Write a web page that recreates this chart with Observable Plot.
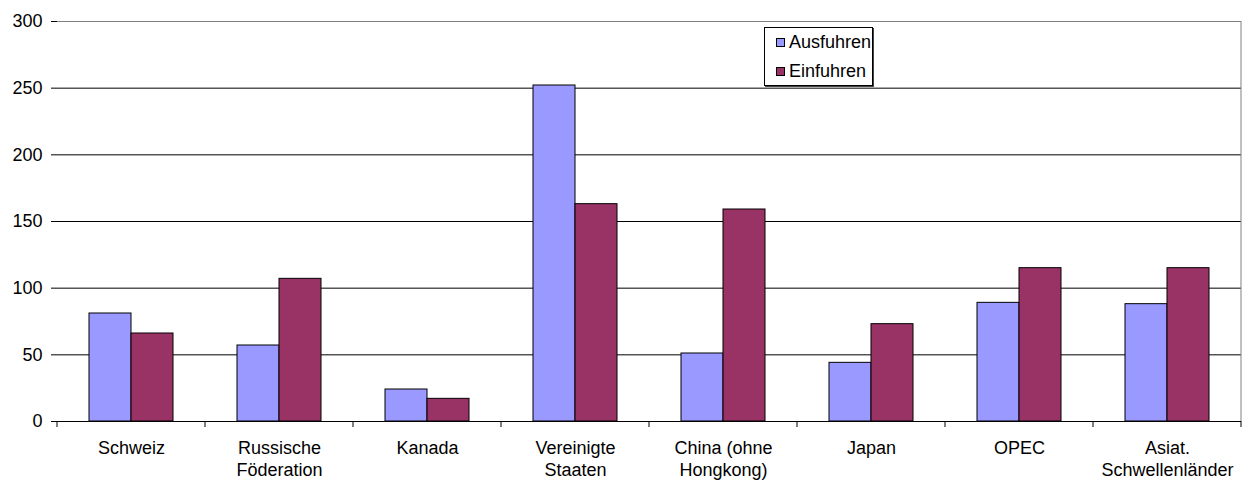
<!DOCTYPE html>
<html>
<head>
<meta charset="utf-8">
<script src="https://cdn.jsdelivr.net/npm/d3@7"></script>
<script src="https://cdn.jsdelivr.net/npm/@observablehq/plot@0.6"></script>
<style>
  html, body { margin: 0; padding: 0; background: #fff; }
  #chart { position: relative; width: 1245px; height: 480px; font-family: "Liberation Sans", Arial, sans-serif; }
  #chart svg { display: block; }
  .legend { position: absolute; left: 764px; top: 27px; width: 109px; height: 59px; box-sizing: border-box;
            border: 1px solid #000; box-shadow: 1px 1px 0 #444; background: #fff; font-size: 18px; color: #000; }
  .legend .item { position: absolute; left: 11px; display: flex; align-items: center; white-space: nowrap; }
  .legend .sw { width: 7px; height: 7px; border: 1px solid #000; margin-right: 4px; }
</style>
</head>
<body>
<div id="chart"></div>
<script>
// Trade with partner regions: exports and imports
const categories = ["Schweiz", "Russische\nFöderation", "Kanada", "Vereinigte\nStaaten",
                    "China (ohne\nHongkong)", "Japan", "OPEC", "Asiat.\nSchwellenländer"];
const series = ["Ausfuhren", "Einfuhren"];
const ausfuhren = [81, 57, 24, 252, 51, 44, 89, 88];
const einfuhren = [66, 107, 17, 163, 159, 73, 115, 115];
const yTicks = [0, 50, 100, 150, 200, 250, 300];
const colors = ["#9999FF", "#993366"];

const rows = categories.flatMap((cat, i) => [
  {cat, series: series[0], value: ausfuhren[i]},
  {cat, series: series[1], value: einfuhren[i]}
]);

const plot = Plot.plot({
  width: 1245,
  height: 480,
  marginLeft: 54,
  marginRight: 2,
  marginTop: 21,
  marginBottom: 59,
  style: {fontFamily: "'Liberation Sans', Arial, sans-serif", fontSize: "18px", color: "#000", background: "#fff"},
  fx: {domain: categories, paddingInner: 0, paddingOuter: 0, label: null},
  x: {domain: series, paddingInner: 0, paddingOuter: 0.75, axis: null},
  y: {domain: [0, 300], label: null},
  color: {domain: series, range: colors},
  marks: [
    Plot.ruleY(yTicks.filter(v => v > 0 && v < 300), {stroke: "#000", strokeWidth: 1}),
    Plot.ruleY([300], {stroke: "#808080", strokeWidth: 1}),
    Plot.barY(rows, {fx: "cat", x: "series", y: "value", fill: "series", stroke: "#000", strokeWidth: 1, insetLeft: 0, insetRight: 0}),
    Plot.ruleY([0], {stroke: "#000", strokeWidth: 1}),
    Plot.axisY({ticks: yTicks, tickSize: 6, tickPadding: 9, line: true, stroke: "#000"}),
    Plot.axisFx({anchor: "bottom", tickSize: 0, tickPadding: 16.5, lineHeight: 1.22, label: null})
  ]
});

// category boundary ticks and the right border of the plot area
const fx = plot.scale("fx");
const y = plot.scale("y");
const svg = d3.select(plot);
const edges = categories.map(c => fx.apply(c));
edges.push(fx.apply(categories[categories.length - 1]) + fx.bandwidth);
const y0 = y.apply(0), yTop = y.apply(300);
svg.append("g").attr("stroke", "#000")
  .selectAll("line").data(edges).join("line")
  .attr("x1", d => d).attr("x2", d => d)
  .attr("y1", y0).attr("y2", y0 + 6);
svg.append("line").attr("stroke", "#808080")
  .attr("x1", edges[edges.length - 1]).attr("x2", edges[edges.length - 1])
  .attr("y1", yTop).attr("y2", y0);

const chart = document.getElementById("chart");
chart.appendChild(plot);

// legend inside the plot area
const legend = document.createElement("div");
legend.className = "legend";
series.forEach((s, i) => {
  const item = document.createElement("div");
  item.className = "item";
  item.style.top = (i === 0 ? 4 : 33) + "px";
  const sw = document.createElement("span");
  sw.className = "sw";
  sw.style.background = colors[i];
  const label = document.createElement("span");
  label.textContent = s;
  item.appendChild(sw);
  item.appendChild(label);
  legend.appendChild(item);
});
chart.appendChild(legend);
</script>
</body>
</html>
